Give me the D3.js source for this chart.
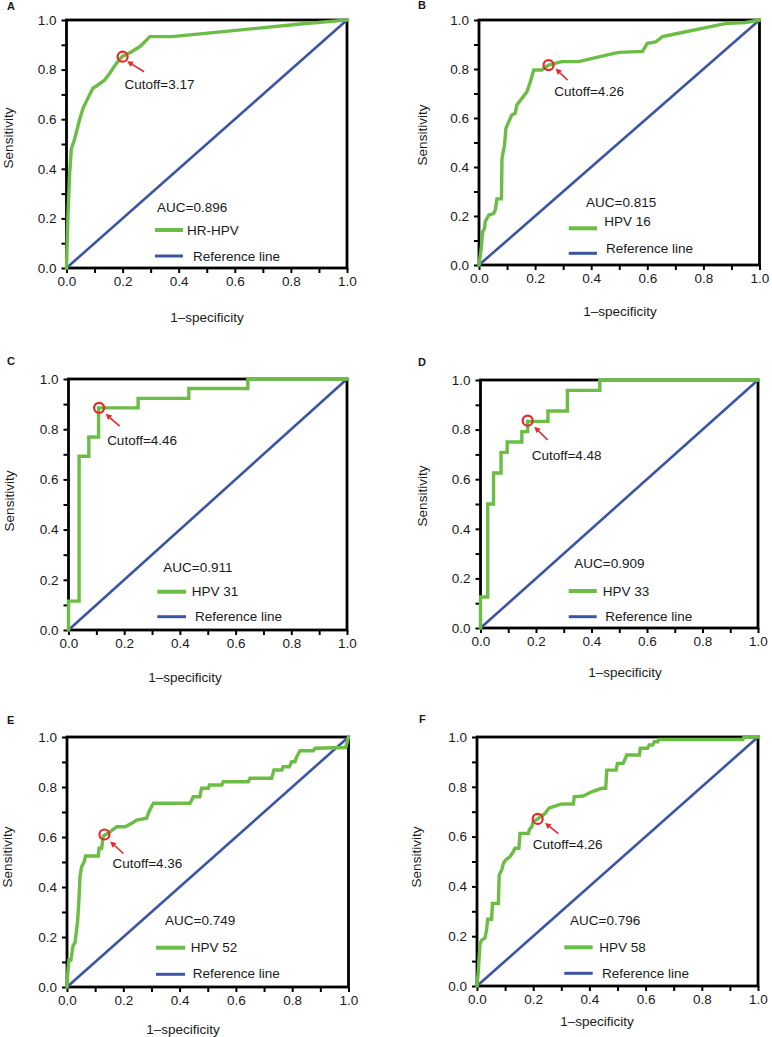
<!DOCTYPE html>
<html><head><meta charset="utf-8">
<script src="https://cdn.jsdelivr.net/npm/d3@7"></script>
<style>body{margin:0;background:#fff}svg{display:block}text{font-family:"Liberation Sans",Arial,sans-serif;fill:#1a1a1a}</style>
</head><body><svg id="c" width="772" height="1037"></svg>
<script>
// ---------- data ----------
const panelLetters = ["A","B","C","D","E","F"];
const seriesNames = ["HR-HPV","HPV 16","HPV 31","HPV 33","HPV 52","HPV 58"];
const aucValues = [0.896,0.815,0.911,0.909,0.749,0.796];
const cutoffValues = [3.17,4.26,4.46,4.48,4.36,4.26];
const cutoffFpr = [0.2,0.248,0.11,0.17,0.133,0.216];
const cutoffTpr = [0.852,0.816,0.885,0.836,0.61,0.671];
const majorTicks = [0,0.2,0.4,0.6,0.8,1.0];
const minorTicks = [0.1,0.3,0.5,0.7,0.9];
const referenceLine = [[0,0],[1,1]];
const xTitle = "1\u2013specificity";
const yTitle = "Sensitivity";
const refName = "Reference line";

const rocA = [[0,0],[0.002,0.08],[0.005,0.21],[0.011,0.375],[0.017,0.48],[0.029,0.52],[0.047,0.6],[0.059,0.644],[0.076,0.684],[0.094,0.725],[0.112,0.738],[0.136,0.758],[0.154,0.785],[0.178,0.825],[0.198,0.852],[0.232,0.872],[0.262,0.893],[0.28,0.913],[0.297,0.933],[0.375,0.933],[0.495,0.946],[0.595,0.957],[0.833,0.984],[1,1]];
const rocB = [[0,0],[0.008,0.068],[0.013,0.136],[0.02,0.15],[0.022,0.177],[0.035,0.204],[0.052,0.21],[0.058,0.224],[0.064,0.27],[0.08,0.27],[0.082,0.435],[0.091,0.49],[0.096,0.558],[0.106,0.585],[0.117,0.612],[0.129,0.619],[0.135,0.653],[0.153,0.68],[0.171,0.707],[0.183,0.748],[0.195,0.796],[0.224,0.796],[0.248,0.816],[0.295,0.83],[0.355,0.83],[0.473,0.862],[0.5,0.868],[0.583,0.872],[0.6,0.905],[0.63,0.911],[0.654,0.932],[0.737,0.952],[0.796,0.966],[0.855,0.98],[0.89,0.987],[0.95,0.99],[1,1]];
const rocC = [[0,0],[0,0.115],[0.038,0.115],[0.038,0.692],[0.073,0.692],[0.073,0.769],[0.108,0.769],[0.108,0.885],[0.25,0.885],[0.25,0.923],[0.432,0.923],[0.432,0.962],[0.644,0.962],[0.644,1],[1,1]];
const rocD = [[0,0],[0,0.125],[0.026,0.125],[0.026,0.5],[0.047,0.5],[0.047,0.625],[0.074,0.625],[0.074,0.708],[0.096,0.708],[0.096,0.75],[0.149,0.75],[0.149,0.792],[0.17,0.792],[0.17,0.833],[0.243,0.833],[0.243,0.875],[0.313,0.875],[0.313,0.958],[0.43,0.958],[0.43,1],[1,1]];
const rocE = [[0,0],[0.003,0.06],[0.007,0.108],[0.014,0.108],[0.019,0.148],[0.022,0.168],[0.028,0.175],[0.034,0.228],[0.038,0.268],[0.043,0.361],[0.046,0.441],[0.052,0.481],[0.061,0.501],[0.066,0.524],[0.111,0.524],[0.114,0.555],[0.123,0.555],[0.129,0.604],[0.153,0.621],[0.164,0.631],[0.177,0.641],[0.206,0.641],[0.23,0.655],[0.248,0.668],[0.283,0.675],[0.291,0.701],[0.307,0.735],[0.437,0.735],[0.449,0.761],[0.472,0.761],[0.478,0.795],[0.502,0.795],[0.506,0.808],[0.55,0.808],[0.555,0.821],[0.644,0.821],[0.65,0.835],[0.727,0.835],[0.735,0.868],[0.763,0.868],[0.768,0.881],[0.79,0.881],[0.798,0.901],[0.81,0.901],[0.816,0.921],[0.828,0.945],[0.875,0.945],[0.881,0.955],[0.99,0.958],[1,1]];
const rocF = [[0,0],[0.005,0.064],[0.007,0.104],[0.011,0.171],[0.017,0.185],[0.028,0.192],[0.034,0.225],[0.038,0.268],[0.052,0.268],[0.055,0.332],[0.076,0.332],[0.079,0.446],[0.088,0.466],[0.094,0.493],[0.102,0.506],[0.117,0.519],[0.129,0.539],[0.135,0.553],[0.149,0.553],[0.153,0.613],[0.183,0.613],[0.186,0.627],[0.195,0.64],[0.2,0.66],[0.216,0.671],[0.242,0.693],[0.256,0.714],[0.272,0.72],[0.301,0.731],[0.343,0.731],[0.346,0.76],[0.378,0.763],[0.408,0.78],[0.444,0.794],[0.458,0.794],[0.462,0.867],[0.495,0.867],[0.5,0.894],[0.52,0.894],[0.528,0.914],[0.533,0.928],[0.578,0.928],[0.581,0.955],[0.607,0.955],[0.613,0.968],[0.625,0.968],[0.631,0.981],[0.643,0.981],[0.647,0.99],[0.946,0.99],[0.95,1],[1,1]];
const rocCurves = [rocA,rocB,rocC,rocD,rocE,rocF];

// ---------- layout ----------
const layouts = [
 {l:66.5,r:347,t:20,b:268, letter:[7,10], ylab:[12.5,138], xlab:[207,321.5], auc:[157,211.5], l1:[155,183,230], t1:[187,234.5], l2:[155,183,256], t2:[193,260.5], ct:[2,32], tip:[4.5,4.5], tail:[21.5,15]},
 {l:479,r:759.5,t:20,b:265, letter:[418,9], ylab:[426.5,135], xlab:[620,316], auc:[586,207], l1:[568.7,597,228.3], t1:[604.3,226], l2:[568.7,597,253.3], t2:[606,253], ct:[5.6,31], tip:[7,3.5], tail:[19,15]},
 {l:68.5,r:347,t:379,b:630, letter:[7,365], ylab:[13.5,501], xlab:[185,681.5], auc:[163.3,572], l1:[157.3,186,591.7], t1:[191.7,595.5], l2:[157.3,186,616.7], t2:[195,621], ct:[8,37], tip:[6.5,6], tail:[20.5,18.3]},
 {l:480.5,r:758,t:380,b:628, letter:[418,366], ylab:[426.5,496], xlab:[625,676.5], auc:[574.3,568], l1:[568.7,596.7,591], t1:[602.7,595.5], l2:[568.7,596.7,616.7], t2:[605.3,621], ct:[4,39], tip:[6.6,6], tail:[20,19.3]},
 {l:67,r:348.5,t:737,b:987, letter:[7,724], ylab:[12,857], xlab:[183,1033.5], auc:[165,924.5], l1:[156,185,947.7], t1:[190.7,952], l2:[156,185,974.3], t2:[192.7,978], ct:[8,33], tip:[5.7,7], tail:[19,19]},
 {l:477,r:758,t:737,b:986, letter:[419,723], ylab:[421,857], xlab:[597,1026], auc:[570,924.5], l1:[564.3,592.7,947.3], t1:[599.3,952], l2:[564.3,592.7,973.3], t2:[602,978], ct:[-5,30], tip:[7.3,4], tail:[20.7,14.7]}
];
const GREEN="#6cbd45", BLUE="#3b55a4", RED="#e8262c", FS=13.5;

const svg = d3.select("#c");
const allTicks = majorTicks.concat(minorTicks).sort((a,b)=>a-b);
const isMajor = d => majorTicks.some(m=>Math.abs(m-d)<1e-9);

panelLetters.forEach((letter,i)=>{
  const L = layouts[i];
  const x = d3.scaleLinear().domain([0,1]).range([L.l,L.r]);
  const y = d3.scaleLinear().domain([0,1]).range([L.b,L.t]);
  const g = svg.append("g");

  const xa = g.append("g").attr("transform",`translate(0,${L.b})`)
    .call(d3.axisBottom(x).tickValues(allTicks).tickSize(5).tickPadding(3).tickFormat(d=>isMajor(d)?d3.format(".1f")(d):""));
  const ya = g.append("g").attr("transform",`translate(${L.l},0)`)
    .call(d3.axisLeft(y).tickValues(allTicks).tickSize(5).tickPadding(5).tickFormat(d=>isMajor(d)?d3.format(".1f")(d):""));
  [xa,ya].forEach(a=>{
    a.select(".domain").remove();
    a.selectAll(".tick line").attr("stroke","#000").attr("stroke-width",2);
    a.selectAll(".tick text").attr("font-size",FS).attr("font-family","Liberation Sans, Arial, sans-serif").attr("fill","#1a1a1a");
  });
  g.append("rect").attr("x",L.l).attr("y",L.t).attr("width",L.r-L.l).attr("height",L.b-L.t)
    .attr("fill","none").attr("stroke","#000").attr("stroke-width",2.8);

  const line = d3.line().x(d=>x(d[0])).y(d=>y(d[1]));
  g.append("path").attr("d",line(referenceLine)).attr("fill","none").attr("stroke",BLUE).attr("stroke-width",2.6);
  g.append("path").attr("d",line(rocCurves[i])).attr("fill","none").attr("stroke",GREEN)
    .attr("stroke-width",3.4).attr("stroke-linejoin","miter").attr("stroke-linecap","square");

  const cx = x(cutoffFpr[i]), cy = y(cutoffTpr[i]);
  g.append("circle").attr("cx",cx).attr("cy",cy).attr("r",5).attr("fill","none").attr("stroke",RED).attr("stroke-width",2.2);
  const tx = cx+L.tip[0], ty = cy+L.tip[1], sx = cx+L.tail[0], sy = cy+L.tail[1];
  const ang = Math.atan2(ty-sy, tx-sx), hl = 6, hw = 3;
  const bx = tx - hl*Math.cos(ang), by = ty - hl*Math.sin(ang);
  g.append("line").attr("x1",sx).attr("y1",sy).attr("x2",bx).attr("y2",by).attr("stroke",RED).attr("stroke-width",1.6);
  g.append("path").attr("d",`M${tx},${ty}L${bx+hw*Math.sin(ang)},${by-hw*Math.cos(ang)}L${bx-hw*Math.sin(ang)},${by+hw*Math.cos(ang)}Z`).attr("fill",RED);
  g.append("text").attr("x",cx+L.ct[0]).attr("y",cy+L.ct[1]).attr("font-size",FS).text("Cutoff="+d3.format(".2f")(cutoffValues[i]));

  g.append("text").attr("x",L.auc[0]).attr("y",L.auc[1]).attr("font-size",FS).text("AUC="+d3.format(".3f")(aucValues[i]));
  g.append("line").attr("x1",L.l1[0]).attr("x2",L.l1[1]).attr("y1",L.l1[2]).attr("y2",L.l1[2]).attr("stroke",GREEN).attr("stroke-width",4);
  g.append("text").attr("x",L.t1[0]).attr("y",L.t1[1]).attr("font-size",FS).text(seriesNames[i]);
  g.append("line").attr("x1",L.l2[0]).attr("x2",L.l2[1]).attr("y1",L.l2[2]).attr("y2",L.l2[2]).attr("stroke",BLUE).attr("stroke-width",3);
  g.append("text").attr("x",L.t2[0]).attr("y",L.t2[1]).attr("font-size",FS).text(refName);

  g.append("text").attr("x",L.xlab[0]).attr("y",L.xlab[1]).attr("text-anchor","middle").attr("font-size",FS).text(xTitle);
  g.append("text").attr("transform",`translate(${L.ylab[0]},${L.ylab[1]}) rotate(-90)`).attr("text-anchor","middle").attr("font-size",FS).text(yTitle);
  g.append("text").attr("x",L.letter[0]).attr("y",L.letter[1]).attr("font-size",11).attr("font-weight","bold").text(letter);
});
</script></body></html>
